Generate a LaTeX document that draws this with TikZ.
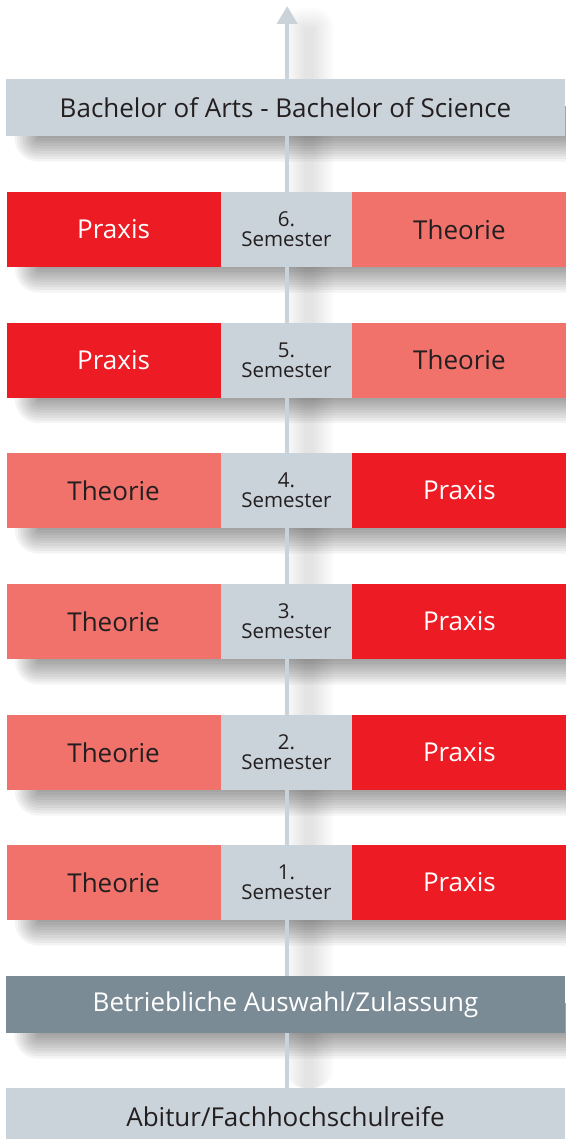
\documentclass[tikz,border=0pt]{standalone}
\usepackage{fontspec}
\setmainfont{Open Sans}
\usepackage{tikz}
\usetikzlibrary{arrows.meta, positioning, backgrounds}
\definecolor{boxgray}{HTML}{CBD3DA}
\definecolor{auswahlgray}{HTML}{7B8B95}
\definecolor{praxisred}{HTML}{ED1C24}
\definecolor{theoriered}{HTML}{F1716B}
\definecolor{textdark}{HTML}{231F20}
\tikzset{
  widebox/.style={rectangle, fill=boxgray, minimum width=559pt, minimum height=57pt,
                  inner sep=0pt, text=textdark, font=\fontsize{26}{30}\selectfont},
  auswahlbox/.style={widebox, fill=auswahlgray, text=white},
  semcell/.style={rectangle, fill=boxgray, minimum width=131pt, minimum height=75pt,
                  inner sep=0pt, text=textdark, align=center,
                  font=\fontsize{20.5}{20}\selectfont},
  praxiscell/.style={rectangle, fill=praxisred, minimum width=214pt, minimum height=75pt,
                     inner sep=0pt, text=white, font=\fontsize{26}{30}\selectfont},
  theoriecell/.style={praxiscell, fill=theoriered, text=textdark},
  shadowlayer/.style={fill=black, opacity=0.042, draw=none},
  lineshadow/.style={fill=black, opacity=0.011, draw=none},
  arrowline/.style={draw=boxgray, line width=4.5pt, -{Triangle[length=18pt, width=20pt]}},
}

\begin{document}
\begin{tikzpicture}[x=1pt, y=-1pt]
  \useasboundingbox (0,0) rectangle (565,1139);

  % Degree and entry boxes
  \node (bachelor) at (285.5,107.5) [widebox] {Bachelor of Arts - Bachelor of Science};
  \node (auswahl) at (285.5,1004.5) [auswahlbox] {Betriebliche Auswahl/Zulassung};
  \node (abitur) at (285.5,1116.5) [widebox] {Abitur/Fachhochschulreife};

  % Semester rows
  \node (sem6) at (286.5,229.5) [semcell] {6.\\Semester};
  \node (l6) [praxiscell, left=0pt of sem6] {Praxis};
  \node (r6) [theoriecell, right=0pt of sem6] {Theorie};

  \node (sem5) at (286.5,360) [semcell] {5.\\Semester};
  \node (l5) [praxiscell, left=0pt of sem5] {Praxis};
  \node (r5) [theoriecell, right=0pt of sem5] {Theorie};

  \node (sem4) at (286.5,490.5) [semcell] {4.\\Semester};
  \node (l4) [theoriecell, left=0pt of sem4] {Theorie};
  \node (r4) [praxiscell, right=0pt of sem4] {Praxis};

  \node (sem3) at (286.5,621.5) [semcell] {3.\\Semester};
  \node (l3) [theoriecell, left=0pt of sem3] {Theorie};
  \node (r3) [praxiscell, right=0pt of sem3] {Praxis};

  \node (sem2) at (286.5,752.5) [semcell] {2.\\Semester};
  \node (l2) [theoriecell, left=0pt of sem2] {Theorie};
  \node (r2) [praxiscell, right=0pt of sem2] {Praxis};

  \node (sem1) at (286.5,882.5) [semcell] {1.\\Semester};
  \node (l1) [theoriecell, left=0pt of sem1] {Theorie};
  \node (r1) [praxiscell, right=0pt of sem1] {Praxis};

  \coordinate (top) at (287.2,6);

  % Soft shadows and timeline behind the boxes
  \begin{scope}[on background layer]
    \foreach \k in {0,...,8}
      \fill[lineshadow, rounded corners=2.5*\k] (304-2.5*\k,28-2.5*\k) rectangle (314+2.5*\k,1088);
    \foreach \a/\b in {bachelor/bachelor, l6/r6, l5/r5, l4/r4, l3/r3, l2/r2, l1/r1, auswahl/auswahl}
      \foreach \k in {0,...,9}
        \fill[shadowlayer, rounded corners=2.6*\k]
          ([xshift=32-2.6*\k, yshift=30]\a.south west) rectangle ([xshift=40, yshift=-2-2.6*\k]\b.south east);
    \draw[arrowline] (top |- abitur.north) -- (top);
  \end{scope}
\end{tikzpicture}
\end{document}
